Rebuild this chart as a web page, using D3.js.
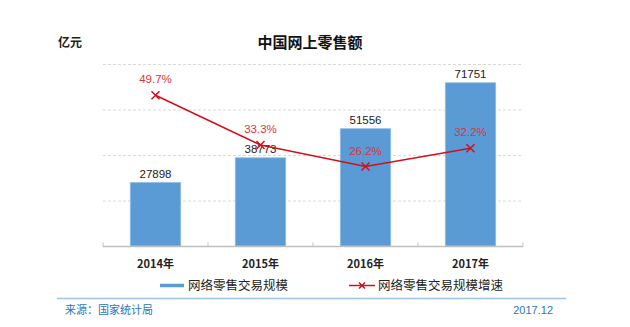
<!DOCTYPE html>
<html><head><meta charset="utf-8">
<script src="https://cdn.jsdelivr.net/npm/d3@7"></script>
<style>body{margin:0;background:#fff;}svg{display:block;font-family:"Noto Sans CJK SC","Liberation Sans",sans-serif;}</style>
</head><body><svg id="c" width="630" height="327"></svg>
<script>
const categories = ["2014年","2015年","2016年","2017年"];
const salesValues = [27898, 38773, 51556, 71751];
const growthValues = [49.7, 33.3, 26.2, 32.2];
const growthLabels = ["49.7%","33.3%","26.2%","32.2%"];
const leftTicks = [0, 20000, 40000, 60000, 80000];
const seriesNames = ["网络零售交易规模","网络零售交易规模增速"];

const svg = d3.select("#c");
const x = d3.scaleBand().domain(categories).range([103, 523]).paddingInner(0.52).paddingOuter(0.26);
const y = d3.scaleLinear().domain([0, 80000]).range([246, 64]);
const y2 = d3.scaleLinear().domain([0, 60]).range([246, 64]);

// gridlines
svg.append("g").selectAll("line").data(leftTicks.slice(1)).join("line")
  .attr("x1",103).attr("x2",523).attr("y1",d=>y(d)+0.5).attr("y2",d=>y(d)+0.5)
  .attr("stroke","#d9d9d9").attr("stroke-dasharray","3,2").attr("stroke-width",1);

// bars
svg.append("g").selectAll("rect").data(salesValues).join("rect")
  .attr("x",(d,i)=>x(categories[i])).attr("width",x.bandwidth())
  .attr("y",d=>y(d)).attr("height",d=>y(0)-y(d))
  .attr("fill","#5b9bd5").attr("stroke","#8fbce6").attr("stroke-width",0.8);

// x axis
const xa = svg.append("g").attr("transform","translate(0,246.5)");
xa.append("line").attr("x1",103).attr("x2",523).attr("stroke","#bfbfbf").attr("stroke-width",1.5);
const bounds = categories.map(c=>x(c)-x.step()*x.paddingInner()/2);
bounds.push(523);
bounds[0]=103;
xa.selectAll("line.t").data(bounds).join("line").attr("class","t")
  .attr("x1",d=>d).attr("x2",d=>d).attr("y1",-4).attr("y2",0).attr("stroke","#bfbfbf");
xa.selectAll("text").data(categories).join("text")
  .attr("x",d=>x(d)+x.bandwidth()/2).attr("y",21).attr("text-anchor","middle")
  .attr("font-size",11).attr("font-weight","bold").attr("fill","#222").text(d=>d);

// bar labels
svg.append("g").selectAll("text").data(salesValues).join("text")
  .attr("x",(d,i)=>x(categories[i])+x.bandwidth()/2).attr("y",d=>y(d)-5)
  .attr("text-anchor","middle").attr("font-size",11.5).attr("fill","#222")
  .attr("font-family","Liberation Sans, Arial, sans-serif").text(d=>d);

// line
const cx = (d,i)=>x(categories[i])+x.bandwidth()/2;
svg.append("path").datum(growthValues)
  .attr("d",d3.line().x(cx).y(d=>y2(d)))
  .attr("fill","none").attr("stroke","#d0101a").attr("stroke-width",1.6);
const m = svg.append("g").selectAll("path.m").data(growthValues).join("path").attr("class","m")
  .attr("d",(d,i)=>{const px=cx(d,i),py=y2(d),s=4;return `M${px-s},${py-s}L${px+s},${py+s}M${px-s},${py+s}L${px+s},${py-s}`;})
  .attr("stroke","#d0101a").attr("stroke-width",1.5);
svg.append("g").selectAll("text").data(growthValues).join("text")
  .attr("x",cx).attr("y",d=>y2(d)-12).attr("text-anchor","middle")
  .attr("font-size",11.5).attr("fill","#d9343a")
  .attr("font-family","Liberation Sans, Arial, sans-serif").text((d,i)=>growthLabels[i]);

// title
svg.append("text").attr("x",310).attr("y",48).attr("text-anchor","middle")
  .attr("font-size",15).attr("font-weight","bold").attr("fill","#111").text("中国网上零售额");
svg.append("text").attr("x",58).attr("y",47)
  .attr("font-size",12).attr("font-weight","bold").attr("fill","#222").text("亿元");

// legend
const lg = svg.append("g");
lg.append("line").attr("x1",160).attr("x2",184).attr("y1",285.5).attr("y2",285.5).attr("stroke","#5b9bd5").attr("stroke-width",3.5);
lg.append("text").attr("x",188).attr("y",290).attr("font-size",12.5).attr("fill","#222").text(seriesNames[0]);
lg.append("line").attr("x1",349).attr("x2",375).attr("y1",285.5).attr("y2",285.5).attr("stroke","#d0101a").attr("stroke-width",1.5);
lg.append("path").attr("d","M359,282.5L365,288.5M359,288.5L365,282.5").attr("stroke","#d0101a").attr("stroke-width",1.5);
lg.append("text").attr("x",378).attr("y",290).attr("font-size",12.5).attr("fill","#222").text(seriesNames[1]);

// footer
svg.append("line").attr("x1",57).attr("x2",566).attr("y1",298.5).attr("y2",298.5).attr("stroke","#9dc3e6").attr("stroke-width",1.5);
svg.append("text").attr("x",65).attr("y",314).attr("font-size",11).attr("fill","#2e75b6").text("来源：国家统计局");
svg.append("text").attr("x",553).attr("y",314).attr("text-anchor","end").attr("font-size",11)
  .attr("font-family","Liberation Sans, Arial, sans-serif").attr("fill","#2e75b6").text("2017.12");
</script></body></html>
